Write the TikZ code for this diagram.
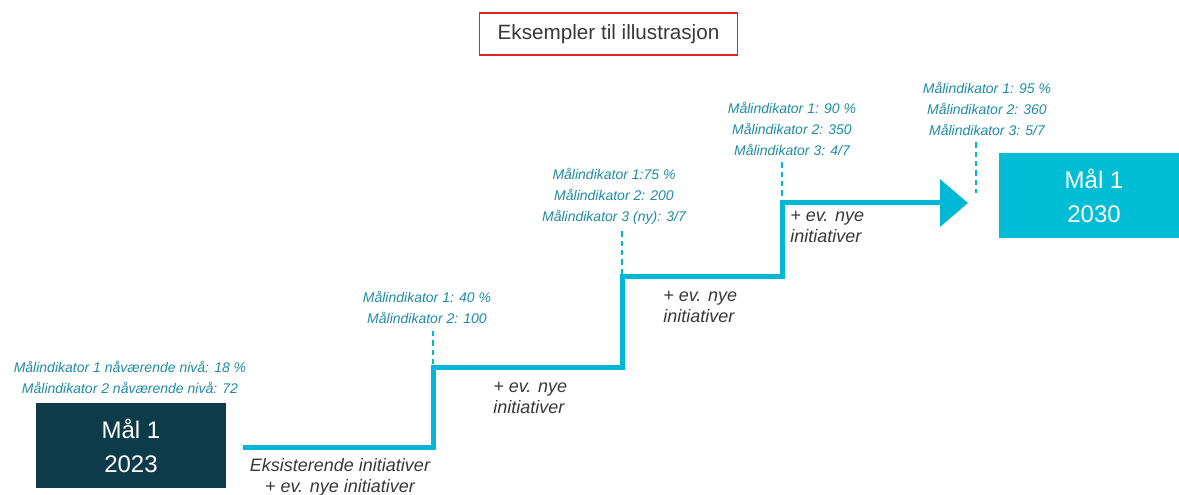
\documentclass[tikz,border=0pt]{standalone}
\usepackage{fontspec}
\setmainfont{Liberation Sans}
\usetikzlibrary{arrows.meta,positioning}
\begin{document}
\begin{tikzpicture}[x=0.75pt,y=-0.75pt,
  goal/.style={minimum width=143pt,minimum height=63.75pt,inner sep=0pt,text=white,align=center,
    font=\fontsize{18}{25.5}\selectfont},
  lab/.style={inner sep=0pt,align=center,text=clab,font=\fontsize{10.5}{15.75}\selectfont\itshape},
  ini/.style={inner sep=0pt,text=cini,font=\fontsize{13.5}{15.75}\selectfont\itshape},
  stepline/.style={line width=3.75pt,draw=cstep,line join=miter},
  tick/.style={draw=cstep,line width=1pt,dash pattern=on 4pt off 3pt}]
%
\useasboundingbox (0,0) rectangle (1179,495);
%
\definecolor{cstep}{rgb}{0.0,0.72,0.84}
\definecolor{cfm0}{rgb}{0.05,0.23,0.29}
\definecolor{cfm1}{rgb}{0.0,0.74,0.84}
\definecolor{clab}{rgb}{0.12,0.55,0.64}
\definecolor{cini}{rgb}{0.22,0.22,0.22}
\definecolor{cttl}{rgb}{0.85,0.15,0.15}
%
\node[draw=cttl,line width=0.8pt,minimum width=194pt,minimum height=31.5pt,inner sep=0pt,
  text=cini,font=\fontsize{15.5}{18}\selectfont] (ttl) at (608.5,34) {Eksempler til illustrasjon};
%
\node[goal,fill=cfm0] (m0) at (131,445.5) {Mål 1\\2023};
\node[goal,fill=cfm1] (m1) at (1094,195.5) {Mål 1\\2030};
%
\node[lab] (l0) at (130,377) {Målindikator 1 nåværende nivå: 18 \%\\Målindikator 2 nåværende nivå: 72};
\node[lab] (l1) at (427,307.5) {Målindikator 1: 40 \%\\Målindikator 2: 100};
\node[lab] (l2) at (614,196) {Målindikator 1:75 \%\\Målindikator 2: 200\\Målindikator 3 (ny): 3/7};
\node[lab] (l3) at (792,128.5) {Målindikator 1: 90 \%\\Målindikator 2: 350\\Målindikator 3: 4/7};
\node[lab] (l4) at (987,108.5) {Målindikator 1: 95 \%\\Målindikator 2: 360\\Målindikator 3: 5/7};
%
\coordinate (s0) at (243,448);
\coordinate (s1) at (433,448);
\coordinate (s2) at (433,368);
\coordinate (s3) at (622,368);
\coordinate (s4) at (622,277);
\coordinate (s5) at (782,277);
\coordinate (s6) at (782,203);
\coordinate (s7) at (968,203);
\coordinate (t4) at (976,193);
%
\draw[stepline,-{Triangle[length=21pt,width=35pt]}] (s0) -- (s1) -- (s2) -- (s3) -- (s4) -- (s5) -- (s6) -- (s7);
%
\draw[tick] (l1.south -| s2) ++(0,7) -- (s2);
\draw[tick] (l2.south -| s4) ++(0,7) -- (s4);
\draw[tick] (l3.south -| s6) ++(0,7) -- (s6);
\draw[tick] (l4.south -| t4) ++(0,7) -- (t4);
%
\node[ini,align=center] (i0) at (340,477.5) {Eksisterende initiativer\\+ ev. nye initiativer};
\node[ini,align=left,anchor=west] (i1) at (493,398) {+ ev. nye\\initiativer};
\node[ini,align=left,anchor=west] (i2) at (663,307) {+ ev. nye\\initiativer};
\node[ini,align=left,anchor=west] (i3) at (790,227) {+ ev. nye\\initiativer};
%
\end{tikzpicture}
\end{document}
